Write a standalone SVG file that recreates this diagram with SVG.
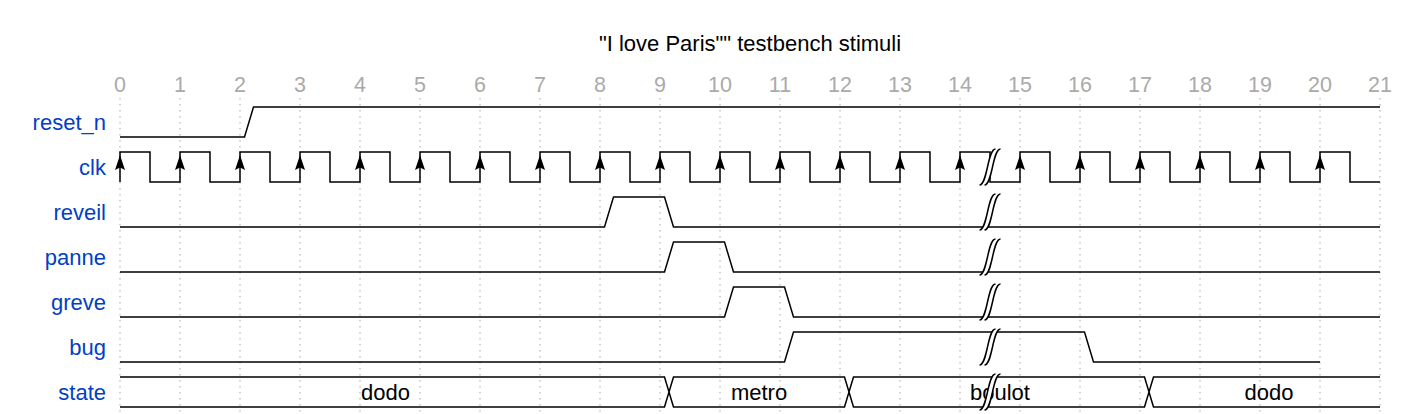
<svg xmlns="http://www.w3.org/2000/svg" xmlns:xlink="http://www.w3.org/1999/xlink" width="1410" height="414" viewBox="0 0 1410 414">
<style>
  text { font-family: "Liberation Sans", Arial, sans-serif; }
  .title { font-size: 22px; fill: #000; text-anchor: middle; }
  .tick { font-size: 21.5px; fill: #aaaaaa; text-anchor: middle; }
  .name { font-size: 22px; fill: #0041c4; text-anchor: end; }
  .data { font-size: 22px; fill: #000; text-anchor: middle; }
  .wave { fill: none; stroke: #000; stroke-width: 1.5; stroke-linejoin: miter; }
  .grid line { stroke: #888; stroke-width: 0.75; stroke-dasharray: 1.5,4.5; }
  .arrow { fill: #000; stroke: none; }
</style>
<defs>
  <path id="pe" class="arrow" d="M0,155 L5,170 L0,167.5 L-5,170 Z"/>
  <g id="gap">
    <path d="M5.5,-18 L10.5,-18 C2.5,-18 2.5,18 -5.5,18 L-10.5,18 C-2.5,18 -2.5,-18 5.5,-18 Z" fill="#fff" stroke="none"/>
    <path d="M-10.5,18 C-2.5,18 -2.5,-18 5.5,-18" fill="none" stroke="#000" stroke-width="1.5"/>
    <path d="M-5.5,18 C2.5,18 2.5,-18 10.5,-18" fill="none" stroke="#000" stroke-width="1.5"/>
  </g>
</defs>
<rect width="1410" height="414" fill="#fff"/>
<text class="title" x="750" y="51">"I love Paris"" testbench stimuli</text>
<g id="ticks">
  <text class="tick" x="120" y="92">0</text><text class="tick" x="180" y="92">1</text><text class="tick" x="240" y="92">2</text><text class="tick" x="300" y="92">3</text><text class="tick" x="360" y="92">4</text><text class="tick" x="420" y="92">5</text><text class="tick" x="480" y="92">6</text><text class="tick" x="540" y="92">7</text><text class="tick" x="600" y="92">8</text><text class="tick" x="660" y="92">9</text><text class="tick" x="720" y="92">10</text><text class="tick" x="780" y="92">11</text><text class="tick" x="840" y="92">12</text><text class="tick" x="900" y="92">13</text><text class="tick" x="960" y="92">14</text><text class="tick" x="1020" y="92">15</text><text class="tick" x="1080" y="92">16</text><text class="tick" x="1140" y="92">17</text><text class="tick" x="1200" y="92">18</text><text class="tick" x="1260" y="92">19</text><text class="tick" x="1320" y="92">20</text><text class="tick" x="1380" y="92">21</text>
</g>
<g class="grid" id="grid">
  <line x1="120" y1="98" x2="120" y2="414"/><line x1="180" y1="98" x2="180" y2="414"/><line x1="240" y1="98" x2="240" y2="414"/><line x1="300" y1="98" x2="300" y2="414"/><line x1="360" y1="98" x2="360" y2="414"/><line x1="420" y1="98" x2="420" y2="414"/><line x1="480" y1="98" x2="480" y2="414"/><line x1="540" y1="98" x2="540" y2="414"/><line x1="600" y1="98" x2="600" y2="414"/><line x1="660" y1="98" x2="660" y2="414"/><line x1="720" y1="98" x2="720" y2="414"/><line x1="780" y1="98" x2="780" y2="414"/><line x1="840" y1="98" x2="840" y2="414"/><line x1="900" y1="98" x2="900" y2="414"/><line x1="960" y1="98" x2="960" y2="414"/><line x1="1020" y1="98" x2="1020" y2="414"/><line x1="1080" y1="98" x2="1080" y2="414"/><line x1="1140" y1="98" x2="1140" y2="414"/><line x1="1200" y1="98" x2="1200" y2="414"/><line x1="1260" y1="98" x2="1260" y2="414"/><line x1="1320" y1="98" x2="1320" y2="414"/><line x1="1380" y1="98" x2="1380" y2="414"/>
</g>
<g id="reset_n">
  <text class="name" x="106" y="129.5">reset_n</text>
  <path class="wave" d="M120,137 H244.5 L253.5,107 H1380"/>
</g>
<g id="clk">
  <text class="name" x="106" y="174.5">clk</text>
  <path class="wave" d="M120,182 V152 H150 V182 H180 V152 H210 V182 H240 V152 H270 V182 H300 V152 H330 V182 H360 V152 H390 V182 H420 V152 H450 V182 H480 V152 H510 V182 H540 V152 H570 V182 H600 V152 H630 V182 H660 V152 H690 V182 H720 V152 H750 V182 H780 V152 H810 V182 H840 V152 H870 V182 H900 V152 H930 V182 H960 V152 H990 V182 H1020 V152 H1050 V182 H1080 V152 H1110 V182 H1140 V152 H1170 V182 H1200 V152 H1230 V182 H1260 V152 H1290 V182 H1320 V152 H1350 V182 H1380"/>
  <use xlink:href="#pe" x="120"/><use xlink:href="#pe" x="180"/><use xlink:href="#pe" x="240"/><use xlink:href="#pe" x="300"/><use xlink:href="#pe" x="360"/><use xlink:href="#pe" x="420"/><use xlink:href="#pe" x="480"/><use xlink:href="#pe" x="540"/><use xlink:href="#pe" x="600"/><use xlink:href="#pe" x="660"/><use xlink:href="#pe" x="720"/><use xlink:href="#pe" x="780"/><use xlink:href="#pe" x="840"/><use xlink:href="#pe" x="900"/><use xlink:href="#pe" x="960"/><use xlink:href="#pe" x="1020"/><use xlink:href="#pe" x="1080"/><use xlink:href="#pe" x="1140"/><use xlink:href="#pe" x="1200"/><use xlink:href="#pe" x="1260"/><use xlink:href="#pe" x="1320"/>
  <use xlink:href="#gap" transform="translate(990,167)"/>
</g>
<g id="reveil">
  <text class="name" x="106" y="219.5">reveil</text>
  <path class="wave" d="M120,227 H604.5 L613.5,197 H664.5 L673.5,227 H1380"/>
  <use xlink:href="#gap" transform="translate(990,212)"/>
</g>
<g id="panne">
  <text class="name" x="106" y="264.5">panne</text>
  <path class="wave" d="M120,272 H664.5 L673.5,242 H724.5 L733.5,272 H1380"/>
  <use xlink:href="#gap" transform="translate(990,257)"/>
</g>
<g id="greve">
  <text class="name" x="106" y="309.5">greve</text>
  <path class="wave" d="M120,317 H724.5 L733.5,287 H784.5 L793.5,317 H1380"/>
  <use xlink:href="#gap" transform="translate(990,302)"/>
</g>
<g id="bug">
  <text class="name" x="106" y="354.5">bug</text>
  <path class="wave" d="M120,362 H784.5 L793.5,332 H1084.5 L1093.5,362 H1320"/>
  <use xlink:href="#gap" transform="translate(990,347)"/>
</g>
<g id="state">
  <text class="name" x="106" y="399.5">state</text>
  <path class="wave" d="M120,377 H664.5 L673.5,407 H844.5 L853.5,377 H1144.5 L1153.5,407 H1380 M120,407 H664.5 L673.5,377 H844.5 L853.5,407 H1144.5 L1153.5,377 H1380"/>
  <text class="data" x="385.5" y="399.5">dodo</text>
  <text class="data" x="759" y="399.5">metro</text>
  <text class="data" x="1000" y="399.5">boulot</text>
  <text class="data" x="1269" y="399.5">dodo</text>
  <use xlink:href="#gap" transform="translate(990,392)"/>
</g>
<g id="connectors"/>
</svg>
